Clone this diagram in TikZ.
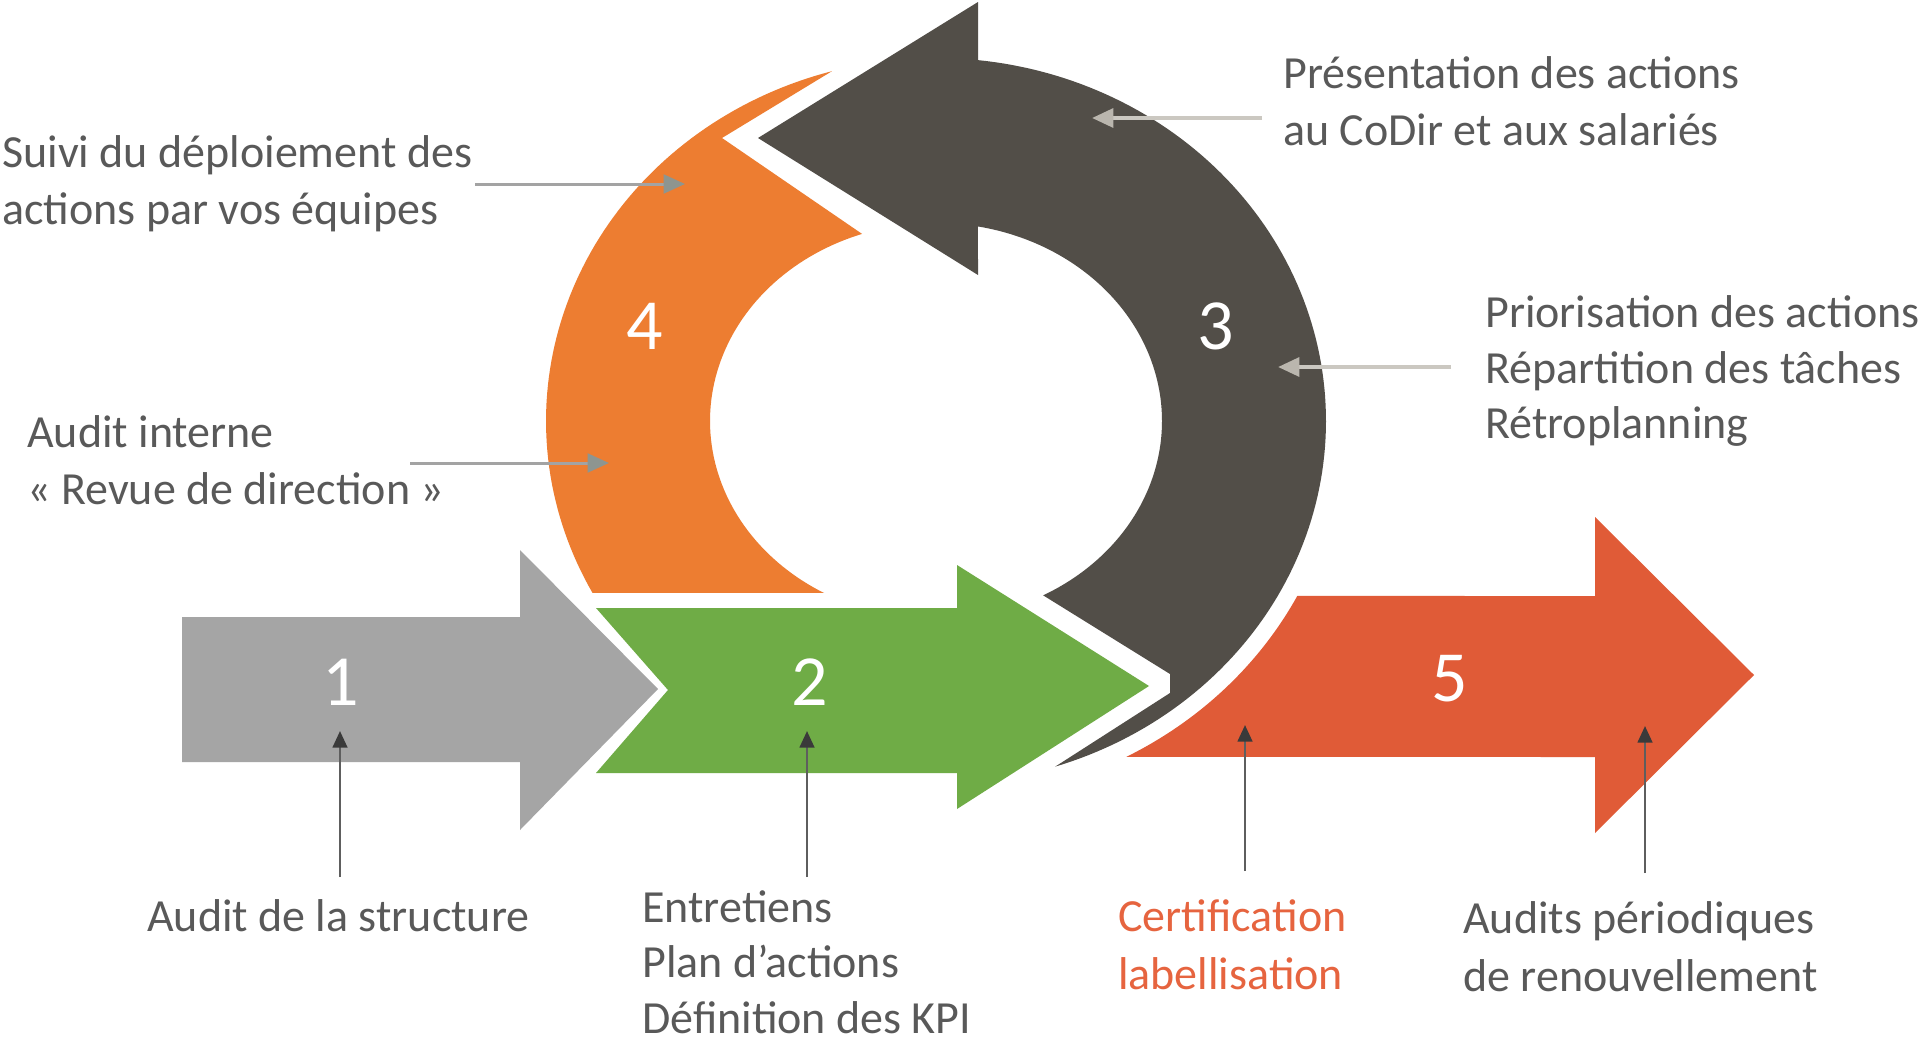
\documentclass[tikz,border=0pt]{standalone}
\usepackage{fontspec}
\setmainfont{Carlito}
\usetikzlibrary{arrows.meta}
\definecolor{cgray}{HTML}{A5A5A5}
\definecolor{cgreen}{HTML}{6FAC46}
\definecolor{corange}{HTML}{ED7D31}
\definecolor{cdark}{HTML}{524E48}
\definecolor{cred}{HTML}{E05B37}
\definecolor{ctext}{HTML}{595959}
\definecolor{ccert}{HTML}{E6643F}
\definecolor{cltl}{HTML}{A3A3A3}
\definecolor{clth}{HTML}{8E9590}
\definecolor{crtl}{HTML}{CBC8C1}
\definecolor{crth}{HTML}{BAB6AE}
\definecolor{cbtl}{HTML}{5E5E5E}
\definecolor{cbth}{HTML}{3A3A3A}
\begin{document}
\begin{tikzpicture}[x=0.75pt,y=-0.75pt,
  lbl/.style={font=\fontsize{34.5}{42.5}\selectfont, text=ctext, align=left, anchor=west, inner sep=0pt},
  num/.style={font=\fontsize{54}{60}\selectfont, text=white, inner sep=0pt},
  connleft/.style={draw=cltl, line width=2.25pt, -{Triangle[length=16pt,width=14pt,color=clth]}},
  connright/.style={draw=crtl, line width=3pt, -{Triangle[length=16pt,width=14pt,color=crth]}},
  connbot/.style={draw=cbtl, line width=1.9pt, -{Triangle[length=12.5pt,width=11pt,color=cbth]}}]
\useasboundingbox (0,0) rectangle (1920,1042);
\fill[white] (0,0) rectangle (1920,1042);

% shape 4 (orange)
\fill[corange] plot[domain=151.72:254.53,samples=80] ({936+390*cos(\x)},{421+363*sin(\x)})
  -- (722,138)
  -- plot[domain=250.9:119.7,samples=80] ({936+226*cos(\x)},{421+198*sin(\x)}) -- cycle;

% shape 3 (dark)
\fill[cdark] (758,138) -- (978,2)
  -- plot[domain=-83.8:72.2,samples=120] ({936+390*cos(\x)},{421+363*sin(\x)})
  -- (1170,693) -- (1170,674)
  -- plot[domain=61.7:-79.3,samples=120] ({936+226*cos(\x)},{421+198*sin(\x)})
  -- (978,275) -- cycle;

% shape 1 (gray)
\fill[cgray] (182,617) -- (520,617) -- (520,550) -- (658,689) -- (520,830) -- (520,762) -- (182,762) -- cycle;

% shape 2 (green)
\fill[cgreen] (596,608) -- (957,608) -- (957,565) -- (1149,686) -- (957,809) -- (957,773) -- (596,773) -- (668,690) -- cycle;

% shape 5 (red)
\fill[cred] plot[domain=62.13:27.42,samples=60] ({936+407*cos(\x)},{421+380*sin(\x)})
  -- (1595,596) -- (1595,517) -- (1754,675) -- (1595,833) -- (1595,757) -- cycle;

% numbers
\node[num] (n1) at (341,682) {1};
\node[num] (n2) at (810,682) {2};
\node[num] (n3) at (1216,326) {3};
\node[num] (n4) at (645,326) {4};
\node[num] (n5) at (1450,679) {5};

% labels
\node[lbl] (tsuivi) at (2,184) {Suivi du déploiement des\\actions par vos équipes};
\node[lbl] (taudit) at (27,460) {Audit interne\\« Revue de direction »};
\node[lbl] (tpres) at (1283,101) {Présentation des actions\\au CoDir et aux salariés};
\node[lbl, font=\fontsize{34.5}{41.5}\selectfont] (tprio) at (1485,371) {Priorisation des actions\\Répartition des tâches\\Rétroplanning};
\node[lbl] (tstruct) at (147,916) {Audit de la structure};
\node[lbl, font=\fontsize{34.5}{41.5}\selectfont] (tentre) at (642,962) {Entretiens\\Plan d’actions\\Définition des KPI};
\node[lbl, text=ccert, font=\fontsize{34.5}{43.5}\selectfont] (tcert) at (1118,945) {Certification\\labellisation};
\node[lbl, font=\fontsize{34.5}{43.5}\selectfont] (tren) at (1463,947) {Audits périodiques\\de renouvellement};

% connector endpoints
\coordinate (a1s) at (475,184); \coordinate (a1e) at (685,184);
\coordinate (a2s) at (410,463); \coordinate (a2e) at (609,463);
\coordinate (a3s) at (1262,118); \coordinate (a3e) at (1092,118);
\coordinate (a4s) at (1451,367); \coordinate (a4e) at (1278,367);
\coordinate (b1s) at (340,877); \coordinate (b1e) at (340,731);
\coordinate (b2s) at (807,877); \coordinate (b2e) at (807,731);
\coordinate (b3s) at (1245,871); \coordinate (b3e) at (1245,725);
\coordinate (b4s) at (1645,873); \coordinate (b4e) at (1645,726);

\draw[connleft] (a1s) -- (a1e);
\draw[connleft] (a2s) -- (a2e);
\draw[connright] (a3s) -- (a3e);
\draw[connright] (a4s) -- (a4e);
\draw[connbot] (b1s) -- (b1e);
\draw[connbot] (b2s) -- (b2e);
\draw[connbot] (b3s) -- (b3e);
\draw[connbot] (b4s) -- (b4e);
\end{tikzpicture}
\end{document}
